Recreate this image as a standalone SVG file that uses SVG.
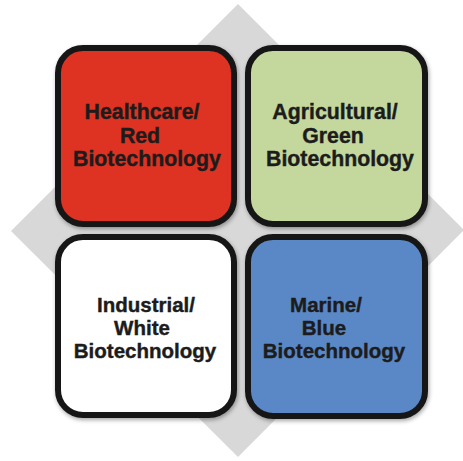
<svg xmlns="http://www.w3.org/2000/svg" width="463" height="461" viewBox="0 0 463 461">
  <style>
    .box { stroke: #161616; stroke-width: 6; filter: url(#shadow); }
    .label { font-family: "Liberation Sans", Arial, sans-serif; font-weight: bold; fill: #1c1c1c; stroke: #1c1c1c; stroke-width: 0.4; text-anchor: middle; }
    .top { font-size: 21.3px; }
    .bottom { font-size: 20.5px; }
  </style>
  <defs>
    <filter id="shadow" x="-10%" y="-10%" width="125%" height="125%">
      <feDropShadow dx="1" dy="2" stdDeviation="2" flood-color="#000" flood-opacity="0.35"/>
    </filter>
  </defs>

  <rect width="463" height="461" fill="#ffffff"/>

  <!-- background diamond -->
  <polygon id="backdrop" points="238,4 464,230 238,457 11,231" fill="#d8d8d8"/>

  <g id="healthcare">
    <rect class="box" x="58" y="48" width="176" height="176" rx="25" fill="#de3124"/>
    <text class="label top" x="142" y="119">Healthcare/</text>
    <text class="label top" x="140" y="143">Red</text>
    <text class="label top" x="147" y="166">Biotechnology</text>
  </g>

  <g id="agricultural">
    <rect class="box" x="248" y="48" width="177" height="176" rx="25" fill="#c4d89e"/>
    <text class="label top" x="335" y="119">Agricultural/</text>
    <text class="label top" x="333" y="143">Green</text>
    <text class="label top" x="340" y="166">Biotechnology</text>
  </g>

  <g id="industrial">
    <rect class="box" x="58" y="237" width="176" height="178" rx="25" fill="#ffffff"/>
    <text class="label bottom" x="146" y="312">Industrial/</text>
    <text class="label bottom" x="142" y="335">White</text>
    <text class="label bottom" x="145" y="358">Biotechnology</text>
  </g>

  <g id="marine">
    <rect class="box" x="248" y="237" width="177" height="179" rx="25" fill="#5a88c6"/>
    <text class="label bottom" x="326" y="312">Marine/</text>
    <text class="label bottom" x="324" y="335">Blue</text>
    <text class="label bottom" x="334" y="358">Biotechnology</text>
  </g>
</svg>
